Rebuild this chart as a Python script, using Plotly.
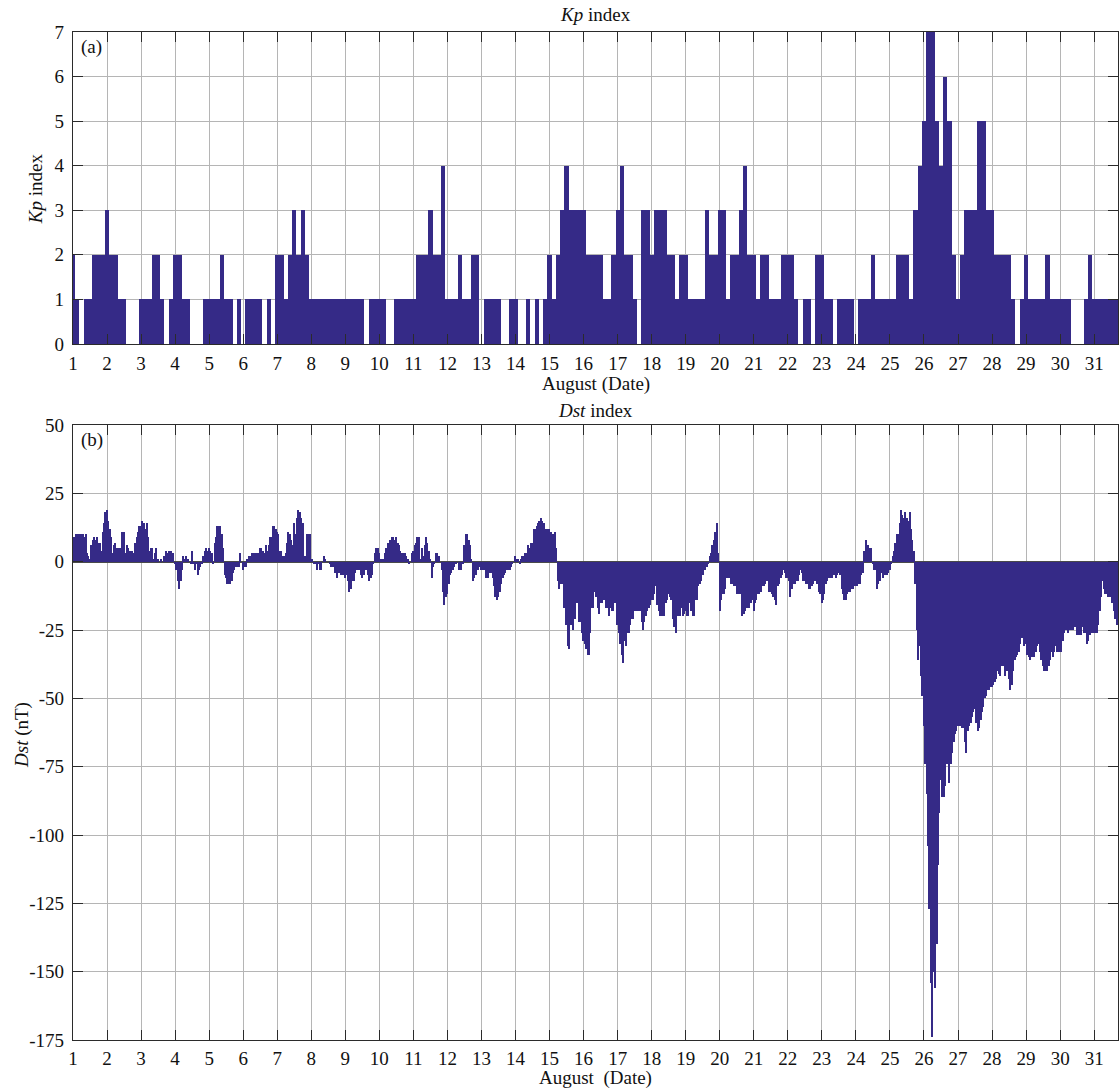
import plotly.graph_objects as go

# Geomagnetic activity, August: 3-hourly Kp and hourly Dst
day_ticks = list(range(1, 32))

kp_3hourly = [
    2, 1, 0, 1, 1, 2, 2, 2,   # 1
    3, 2, 2, 1, 1, 0, 0, 0,   # 2
    1, 1, 1, 2, 2, 1, 0, 1,   # 3
    2, 2, 1, 1, 0, 0, 0, 1,   # 4
    1, 1, 1, 2, 1, 1, 0, 1,   # 5
    0, 1, 1, 1, 1, 0, 1, 0,   # 6
    2, 2, 1, 2, 3, 2, 3, 2,   # 7
    1, 1, 1, 1, 1, 1, 1, 1,   # 8
    1, 1, 1, 1, 1, 0, 1, 1,   # 9
    1, 1, 0, 0, 1, 1, 1, 1,   # 10
    1, 2, 2, 2, 3, 2, 2, 4,   # 11
    1, 1, 1, 2, 1, 1, 2, 2,   # 12
    0, 1, 1, 1, 1, 0, 0, 1,   # 13
    1, 0, 0, 1, 0, 1, 0, 1,   # 14
    2, 1, 2, 3, 4, 3, 3, 3,   # 15
    3, 2, 2, 2, 2, 1, 1, 2,   # 16
    3, 4, 2, 2, 1, 0, 3, 3,   # 17
    2, 3, 3, 3, 2, 2, 1, 2,   # 18
    2, 1, 1, 1, 1, 3, 2, 2,   # 19
    3, 3, 1, 2, 2, 3, 4, 2,   # 20
    2, 1, 2, 2, 1, 1, 1, 2,   # 21
    2, 2, 1, 0, 1, 1, 0, 2,   # 22
    2, 1, 1, 0, 1, 1, 1, 1,   # 23
    0, 1, 1, 1, 2, 1, 1, 1,   # 24
    1, 1, 2, 2, 2, 1, 3, 4,   # 25
    5, 7, 7, 5, 4, 6, 5, 2,   # 26
    1, 2, 3, 3, 3, 5, 5, 3,   # 27
    3, 2, 2, 2, 2, 1, 0, 1,   # 28
    2, 1, 1, 1, 1, 2, 1, 1,   # 29
    1, 1, 1, 0, 0, 0, 1, 2,   # 30
    1, 1, 1, 1, 1, 1, 1, 1,   # 31
]

dst_hourly = [
    7, 9, 10, 9, 10, 10, 10, 10, 9, 10, 3, 2, 1, 6, 8, 9, 8, 9, 7, 7, 4, 11, 14, 18,              # 1
    19, 15, 12, 9, 3, 6, 7, 5, 5, 5, 4, 11, 11, 3, 6, 5, 4, 4, 4, 3, 7, 9, 11, 13,                # 2
    13, 15, 14, 12, 14, 9, 4, 5, 5, 1, 3, 5, 1, 0, 1, 0, 2, 2, 4, 3, 4, 4, 3, 3,                  # 3
    -1, -3, -7, -10, -7, -3, 2, 1, 2, 1, 0, -1, 4, -1, -3, -1, -5, -3, -2, -1, 2, 4, 5, 4,        # 4
    5, 4, 3, -1, 7, 9, 13, 13, 13, 10, 5, -5, -6, -8, -8, -8, -7, -4, -3, -2, -2, -2, 3, 0,       # 5
    -3, -2, -2, 1, 2, 2, 3, 3, 3, 3, 3, 3, 5, 5, 4, 3, 6, 4, 6, 9, 9, 13, 13, 12,                 # 6
    11, 10, 4, 4, 2, 2, 3, 7, 11, 10, 8, 6, 14, 10, 16, 19, 18, 16, 14, 2, 2, 10, 10, 10,         # 7
    1, 1, -1, -1, -3, -1, -3, -3, 0, 2, 1, 0, 0, -1, -2, -2, -2, -4, -6, -4, -4, -5, -5, -5,      # 8
    -6, -5, -7, -11, -10, -7, -7, -4, -3, -3, -3, -5, -6, -5, -3, -3, -5, -7, -6, -5, -1, 3, 5, 5,  # 9
    3, 1, 1, 1, 3, 5, 7, 7, 8, 9, 9, 8, 9, 7, 6, 4, 3, 3, 3, 2, 1, -1, 0, 3,                      # 10
    4, 6, 7, 9, 9, 1, 5, 2, 6, 9, 7, 4, 1, -6, -2, -1, 3, 3, 2, 0, -3, -11, -16, -13,             # 11
    -12, -8, -5, -4, -3, -2, -1, 0, -3, -3, -3, -1, 6, 10, 10, 8, 6, 1, -7, -6, -5, -3, -3, -2,   # 12
    -3, -3, -3, -6, -6, -6, -4, -4, -6, -9, -13, -14, -13, -11, -8, -6, -5, -4, -3, -3, -3, -2, -1, 0,  # 13
    2, 1, 1, -1, 1, 2, 2, 3, 3, 6, 5, 7, 7, 12, 12, 13, 14, 15, 16, 15, 14, 12, 12, 12,          # 14
    12, 11, 10, 10, 11, 5, -7, -10, -8, -8, -17, -17, -23, -31, -32, -23, -21, -25, -21, -15, -15, -22, -22, -26,  # 15
    -29, -30, -32, -34, -34, -26, -17, -17, -11, -13, -17, -19, -15, -15, -14, -14, -17, -17, -20, -17, -18, -18, -15, -15,  # 16
    -23, -26, -30, -34, -37, -29, -31, -26, -26, -23, -21, -21, -18, -18, -18, -18, -18, -22, -25, -22, -20, -18, -17, -16,  # 17
    -14, -14, -12, -9, -16, -18, -20, -20, -20, -20, -15, -14, -12, -13, -14, -21, -24, -26, -18, -20, -20, -17, -20, -19,  # 18
    -18, -20, -20, -15, -18, -20, -20, -14, -14, -9, -8, -7, -5, -3, -3, -2, -1, 2, 3, 6, 8, 11, 14, 3,  # 19
    -18, -14, -12, -12, -10, -6, -6, -6, -8, -8, -9, -9, -12, -12, -12, -12, -20, -19, -18, -17, -17, -17, -15, -14,  # 20
    -18, -15, -14, -12, -12, -11, -9, -9, -8, -7, -7, -11, -11, -12, -13, -14, -16, -9, -8, -6, -5, -3, -4, -6,  # 21
    -6, -7, -13, -10, -8, -8, -7, -7, -5, -3, -4, -7, -7, -8, -8, -10, -10, -9, -8, -7, -7, -8, -11, -12,  # 22
    -15, -14, -12, -8, -7, -6, -6, -6, -5, -5, -6, -5, -4, -5, -10, -12, -14, -14, -12, -11, -11, -10, -10, -9,  # 23
    -9, -9, -8, -8, -5, -4, 4, 8, 6, 6, 5, 5, -1, -3, -3, -10, -8, -7, -4, -6, -5, -5, -5, -4,    # 24
    -3, -1, 2, 4, 7, 10, 10, 14, 19, 17, 16, 18, 16, 15, 18, 12, 8, 4, -8, -25, -36, -31, -42, -49,  # 25
    -60, -74, -85, -104, -127, -154, -174, -150, -156, -140, -111, -92, -80, -86, -86, -82, -74, -74, -81, -74, -70, -66, -63, -62,  # 26
    -60, -60, -60, -61, -61, -66, -70, -62, -60, -59, -57, -55, -54, -59, -62, -61, -58, -55, -53, -50, -49, -47, -47, -46,  # 27
    -46, -45, -44, -43, -40, -41, -42, -38, -38, -42, -40, -40, -43, -47, -45, -40, -36, -35, -34, -33, -30, -28, -28, -31,  # 28
    -30, -34, -35, -36, -35, -35, -35, -33, -31, -30, -33, -36, -38, -40, -40, -40, -38, -36, -33, -35, -33, -31, -33, -33,  # 29
    -33, -33, -29, -26, -25, -25, -26, -25, -25, -25, -24, -24, -27, -27, -27, -27, -24, -26, -26, -30, -29, -27, -26, -26,  # 30
    -26, -26, -26, -23, -18, -13, -7, -10, -12, -12, -13, -13, -11, -15, -18, -21, -23, -22, -22, -22, -22, -22, -22, -22,  # 31
]

kp_ticks = list(range(0, 8))
dst_ticks = [50, 25, 0, -25, -50, -75, -100, -125, -150, -175]

# time axis in fractional days (day 1 00 UT = 1.0)
kp_time = [1 + i / 8 for i in range(len(kp_3hourly))]
dst_time = [1 + i / 24 for i in range(len(dst_hourly))]

BAR = "#352a87"
FONT = "Liberation Serif, Times New Roman, serif"
FS = 19
X_RANGE = [1, 31.7]

fig = go.Figure()
fig.add_trace(go.Bar(x=kp_time, y=kp_3hourly, width=1 / 8, marker=dict(color=BAR, line=dict(width=0)),
                     xaxis="x", yaxis="y", showlegend=False))
fig.add_trace(go.Bar(x=dst_time, y=dst_hourly, width=1 / 24, marker=dict(color=BAR, line=dict(width=0)),
                     xaxis="x2", yaxis="y2", showlegend=False))

axis_common = dict(
    showgrid=True, gridcolor="#b5b5b5", gridwidth=1,
    showline=True, linecolor="#2b2b2b", linewidth=1.3, mirror="ticks",
    ticks="inside", ticklen=10, tickwidth=1.3, tickcolor="#2b2b2b",
    tickfont=dict(family=FONT, size=FS, color="#111"),
)

fig.update_layout(
    width=1119, height=1090,
    margin=dict(l=73, r=1, t=32, b=50),
    paper_bgcolor="white", plot_bgcolor="white",
    bargap=0, barmode="overlay",
    font=dict(family=FONT, size=FS, color="#111"),
    xaxis=dict(domain=[0, 1], anchor="y", range=X_RANGE, tickmode="array",
               tickvals=day_ticks, ticktext=[str(d) for d in day_ticks],
               zeroline=False, ticklabelstandoff=2, **axis_common),
    yaxis=dict(domain=[0.6905, 1], anchor="x", range=[0, 7], tickmode="array",
               tickvals=kp_ticks, ticktext=[str(v) for v in kp_ticks],
               zeroline=False, ticklabelstandoff=4, **axis_common),
    xaxis2=dict(domain=[0, 1], anchor="y2", range=X_RANGE, tickmode="array",
                tickvals=day_ticks, ticktext=[str(d) for d in day_ticks],
                zeroline=False, ticklabelstandoff=1, **axis_common),
    yaxis2=dict(domain=[0, 0.6101], anchor="x2", range=[-175, 50], tickmode="array",
                tickvals=dst_ticks, ticktext=[str(v) for v in dst_ticks],
                zeroline=True, zerolinecolor="#4a4a4a", zerolinewidth=1.5,
                ticklabelstandoff=4, **axis_common),
)

txt = dict(family=FONT, size=FS, color="#111")
annotations = [
    dict(text="<i>Kp</i> index", x=0.5, y=1.0169, xref="paper", yref="paper",
         xanchor="center", yanchor="middle", showarrow=False, font=txt),
    dict(text="<i>Dst</i> index", x=0.5, y=0.625, xref="paper", yref="paper",
         xanchor="center", yanchor="middle", showarrow=False, font=txt),
    dict(text="August (Date)", x=0.5, y=0.6508, xref="paper", yref="paper",
         xanchor="center", yanchor="middle", showarrow=False, font=txt),
    dict(text="August  (Date)", x=0.5, y=-0.0377, xref="paper", yref="paper",
         xanchor="center", yanchor="middle", showarrow=False, font=txt),
    dict(text="<i>Kp</i> index", x=-0.0364, y=0.845, xref="paper", yref="paper",
         xanchor="center", yanchor="middle", textangle=-90, showarrow=False, font=txt),
    dict(text="<i>Dst</i> (nT)", x=-0.0488, y=0.3026, xref="paper", yref="paper",
         xanchor="center", yanchor="middle", textangle=-90, showarrow=False, font=txt),
    dict(text="(a)", x=0.006, y=0.985, xref="paper", yref="paper",
         xanchor="left", yanchor="middle", showarrow=False, font=txt),
    dict(text="(b)", x=0.006, y=0.595, xref="paper", yref="paper",
         xanchor="left", yanchor="middle", showarrow=False, font=txt),
]
fig.update_layout(annotations=annotations)

fig.write_html("out.html")
